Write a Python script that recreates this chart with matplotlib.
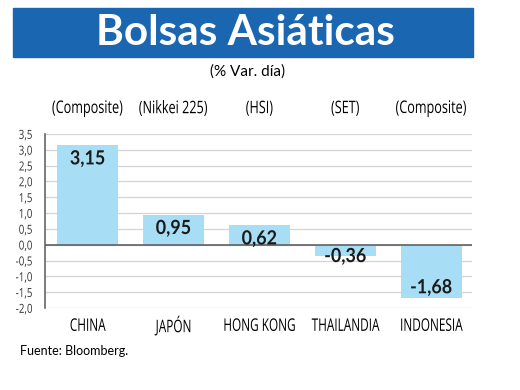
import matplotlib
matplotlib.use("Agg")
import matplotlib.pyplot as plt
from matplotlib.patches import Rectangle
from matplotlib.patheffects import AbstractPathEffect
from matplotlib.transforms import Affine2D
from matplotlib.ticker import MultipleLocator, FuncFormatter

# data
countries = ["CHINA", "JAPÓN", "HONG KONG", "THAILANDIA", "INDONESIA"]
indices = ["(Composite)", "(Nikkei 225)", "(HSI)", "(SET)", "(Composite)"]
changes = [3.15, 0.95, 0.62, -0.36, -1.68]

BLUE = "#1a66b0"
BAR = "#a8def5"
FONT = "Open Sans"


class Stretch(AbstractPathEffect):
    """Stretch text vertically about its centre, so a small font looks condensed."""

    def __init__(self, sy):
        super().__init__()
        self.sy = sy

    def draw_path(self, renderer, gc, tpath, affine, rgbFace=None):
        ext = tpath.get_extents()
        cy = (ext.y0 + ext.y1) / 2
        t = Affine2D().translate(0, -cy).scale(1, self.sy).translate(0, cy) + affine
        renderer.draw_path(gc, tpath, t, rgbFace)


fig = plt.figure(figsize=(5.2, 3.9), dpi=100)

# title banner
fig.patches.append(Rectangle((13 / 520, 1 - 57 / 390), 460 / 520, 49 / 390,
                             transform=fig.transFigure, color=BLUE, zorder=0))
fig.text(245 / 520, 1 - 33 / 390, "Bolsas Asiáticas", color="white",
         fontsize=30.5, fontweight="bold", family="Lato", ha="center", va="center")
fig.text(248 / 520, 1 - 72 / 390, "(% Var. día)", fontsize=11, family="Lato",
         ha="center", va="center")

ax = fig.add_axes([45 / 520, 1 - 308 / 390, 427 / 520, 174 / 390])
x = list(range(len(countries)))
ax.bar(x, changes, width=0.71, color=BAR, zorder=2)
ax.set_xlim(-0.495, 4.476)
ax.set_ylim(-2.0, 3.5)
ax.yaxis.set_major_locator(MultipleLocator(0.5))
ax.yaxis.set_major_formatter(FuncFormatter(lambda v, _: f"{v:.1f}".replace(".", ",")))
ax.grid(axis="y", color="#d4d4d4", lw=0.9, zorder=0)
ax.axhline(0, color="#555555", lw=1.1, zorder=3)
for s in ("top", "right", "bottom"):
    ax.spines[s].set_visible(False)
ax.spines["left"].set_color("#666666")
ax.spines["left"].set_linewidth(1.2)
ax.tick_params(axis="y", length=0, pad=9, labelsize=7, labelcolor="#333333")
for lab in ax.get_yticklabels():
    lab.set_family(FONT)
    lab.set_path_effects([Stretch(1.28)])
ax.set_xticks([])

for xi, v in zip(x, changes):
    txt = f"{v:.2f}".replace(".", ",")
    if v >= 0:
        pos = dict(xytext=(0, -3.5), va="top")
    elif v > -0.6:
        # short negative bar: label hangs over the bar's bottom edge
        pos = dict(xytext=(0, 0), va="center")
    else:
        pos = dict(xytext=(0, 1.5), va="bottom")
    lbl = ax.annotate(txt, (xi, v), textcoords="offset points", ha="center",
                      fontsize=12.9, fontweight="bold", family="Lato",
                      color="#1a1a1a", zorder=4, **pos)
    lbl.set_path_effects([Stretch(1.09)])
    t1 = ax.annotate(indices[xi], (xi, 1), xycoords=("data", "axes fraction"),
                     xytext=(0, 18.5), textcoords="offset points", ha="center",
                     va="center", fontsize=9.1, family=FONT)
    t2 = ax.annotate(countries[xi], (xi, 0), xycoords=("data", "axes fraction"),
                     xytext=(0, -12.5), textcoords="offset points", ha="center",
                     va="center", fontsize=8.5, family=FONT)
    t1.set_path_effects([Stretch(1.37)])
    t2.set_path_effects([Stretch(1.47)])

fig.text(20 / 520, 1 - 351 / 390, "Fuente: Bloomberg.", fontsize=9,
         family="Lato", ha="left", va="center")

fig.savefig("out.png", dpi=100)
